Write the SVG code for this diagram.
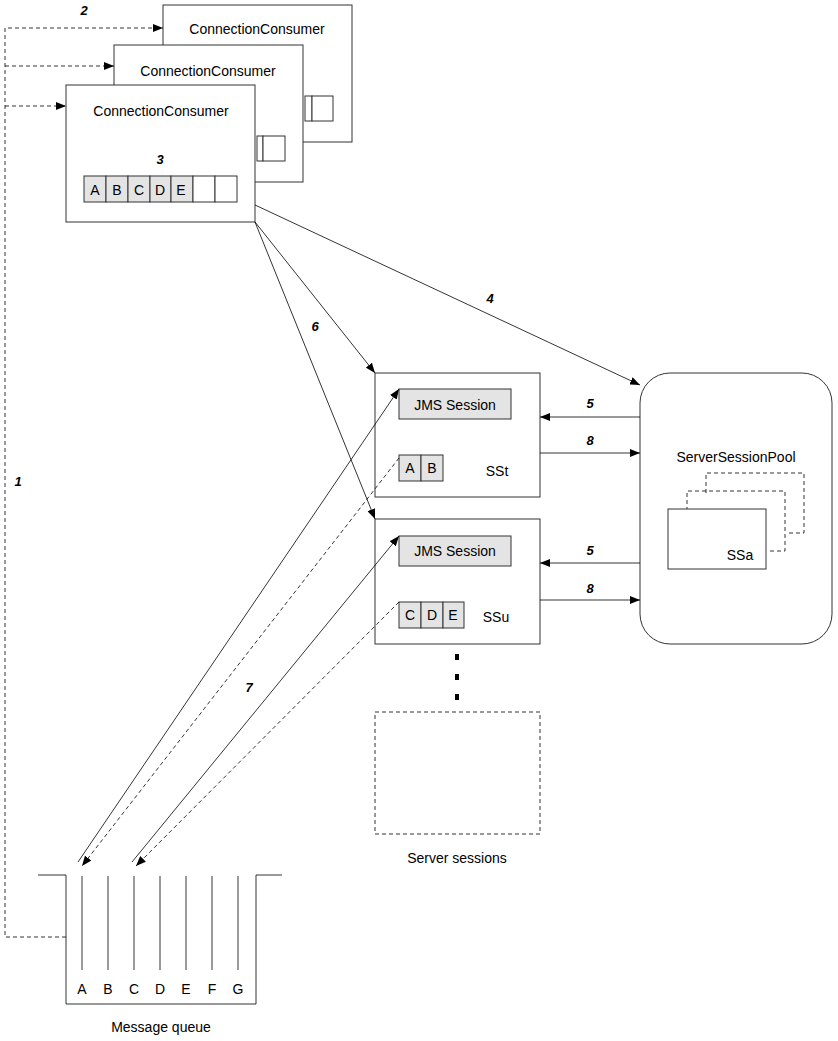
<svg xmlns="http://www.w3.org/2000/svg" width="838" height="1041" viewBox="0 0 838 1041">
<style>
text{font-family:"Liberation Sans",Arial,sans-serif;font-size:14px;fill:#000}
.n{font-weight:bold;font-style:italic;font-size:13px}
.b{fill:#fff;stroke:#333;stroke-width:1}
.g{fill:#e4e4e4;stroke:#333;stroke-width:1}
.l{fill:none;stroke:#000;stroke-width:0.8}
.d{fill:none;stroke:#000;stroke-width:0.8;stroke-dasharray:4,3}
.m{text-anchor:middle}
</style>
<defs><marker id="a" markerWidth="10" markerHeight="8" refX="10" refY="4" orient="auto" markerUnits="userSpaceOnUse"><path d="M0,0L10,4L0,8z" fill="#000"/></marker></defs>
<g id="cc3"><rect class="b" x="163" y="5" width="189" height="137"/><text x="257" y="34" class="m">ConnectionConsumer</text><rect class="b" x="305" y="96" width="7" height="25"/><rect class="b" x="312" y="96" width="21" height="25"/></g>
<g id="cc2"><rect class="b" x="114" y="45" width="189" height="137"/><text x="208" y="76" class="m">ConnectionConsumer</text><rect class="b" x="257" y="136" width="6" height="25"/><rect class="b" x="263" y="136" width="22" height="25"/></g>
<g id="cc1"><rect class="b" x="66" y="85" width="189" height="137"/><text x="161" y="116" class="m">ConnectionConsumer</text>
<rect class="g" x="84" y="176" width="22" height="26"/><rect class="g" x="106" y="176" width="22" height="26"/><rect class="g" x="128" y="176" width="22" height="26"/><rect class="g" x="150" y="176" width="21" height="26"/><rect class="g" x="171" y="176" width="22" height="26"/><rect class="b" x="193" y="176" width="22" height="26"/><rect class="b" x="215" y="176" width="22" height="26"/>
<text x="95" y="195" class="m">A</text><text x="117" y="195" class="m">B</text><text x="139" y="195" class="m">C</text><text x="160" y="195" class="m">D</text><text x="181" y="195" class="m">E</text></g>
<g id="sst"><rect class="b" x="375" y="373" width="165" height="124"/><rect class="g" x="399" y="389" width="112" height="30"/><text x="455" y="410" class="m">JMS Session</text><rect class="g" x="399" y="455" width="22" height="26"/><rect class="g" x="421" y="455" width="22" height="26"/><text x="410" y="473" class="m">A</text><text x="432" y="473" class="m">B</text><text x="497" y="476" class="m">SSt</text></g>
<g id="ssu"><rect class="b" x="375" y="519" width="165" height="125"/><rect class="g" x="399" y="536" width="112" height="30"/><text x="455" y="556" class="m">JMS Session</text><rect class="g" x="399" y="602" width="22" height="26"/><rect class="g" x="421" y="602" width="22" height="26"/><rect class="g" x="443" y="602" width="21" height="26"/><text x="410" y="620" class="m">C</text><text x="432" y="620" class="m">D</text><text x="453" y="620" class="m">E</text><text x="496" y="622" class="m">SSu</text></g>
<g id="dots"><rect x="455" y="654" width="4" height="6"/><rect x="455" y="674" width="4" height="6"/><rect x="455" y="694" width="4" height="6"/></g>
<g id="servers"><rect x="375" y="712" width="165" height="122" fill="none" stroke="#333" stroke-dasharray="4,3"/><text x="457" y="863" class="m">Server sessions</text></g>
<g id="pool"><rect class="b" x="640" y="373" width="192" height="271" rx="30"/><text x="736" y="462" class="m">ServerSessionPool</text>
<path d="M706,493V473H804V533H786" class="d"/><path d="M687,511V491H785V551H768" class="d"/><rect class="b" x="668" y="509" width="98" height="60"/><text x="740" y="560" class="m">SSa</text></g>
<g id="queue"><path d="M38,875H66V1004H256V875H282" class="l" stroke="#333"/>
<path d="M82,876V970M108,876V970M134,876V970M160,876V970M186,876V970M212,876V970M238,876V970" class="l"/>
<text x="82" y="994" class="m">A</text><text x="108" y="994" class="m">B</text><text x="134" y="994" class="m">C</text><text x="160" y="994" class="m">D</text><text x="186" y="994" class="m">E</text><text x="212" y="994" class="m">F</text><text x="238" y="994" class="m">G</text>
<text x="161" y="1032" class="m">Message queue</text></g>
<g id="connectors">
<path d="M66,937H5V28H163" class="d" marker-end="url(#a)"/><path d="M5,66H114" class="d" marker-end="url(#a)"/><path d="M5,106H66" class="d" marker-end="url(#a)"/>
<path d="M255,205L640,385" class="l" marker-end="url(#a)"/>
<path d="M255,222L375,373" class="l" marker-end="url(#a)"/>
<path d="M255,222L375,519" class="l" marker-end="url(#a)"/>
<path d="M640,417H540" class="l" marker-end="url(#a)"/><path d="M540,453H640" class="l" marker-end="url(#a)"/>
<path d="M640,563H540" class="l" marker-end="url(#a)"/><path d="M540,600H640" class="l" marker-end="url(#a)"/>
<path d="M78,862L399,389" class="l" marker-end="url(#a)"/><path d="M399,458L82,866" class="d" marker-end="url(#a)"/>
<path d="M132,862L399,536" class="l" marker-end="url(#a)"/><path d="M399,602L136,866" class="d" marker-end="url(#a)"/>
<text x="84" y="15" class="n m">2</text><text x="160" y="164" class="n m">3</text><text x="18" y="486" class="n m">1</text><text x="490" y="303" class="n m">4</text><text x="315" y="331" class="n m">6</text><text x="249" y="692" class="n m">7</text>
<text x="590" y="408" class="n m">5</text><text x="590" y="445" class="n m">8</text><text x="590" y="555" class="n m">5</text><text x="590" y="593" class="n m">8</text>
</g>
</svg>
